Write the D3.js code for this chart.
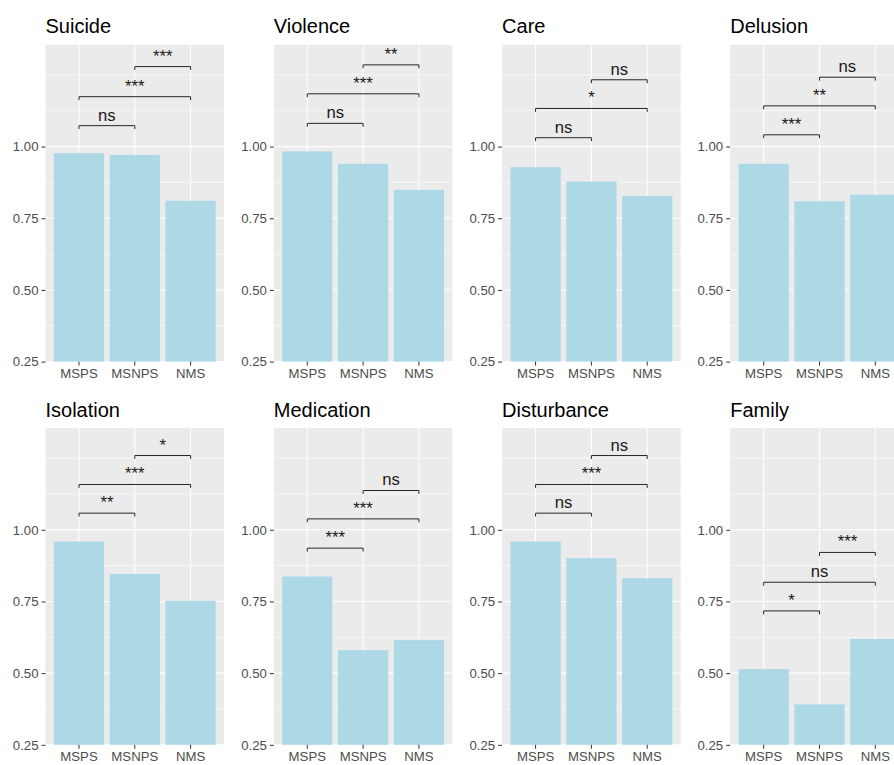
<!DOCTYPE html>
<html>
<head>
<meta charset="utf-8">
<script src="https://cdn.jsdelivr.net/npm/d3@7"></script>
<style>
  html, body { margin: 0; padding: 0; background: #fff; }
  svg { display: block; font-family: "Liberation Sans", Arial, sans-serif; }
</style>
</head>
<body>
<svg id="chart" width="894" height="765"></svg>
<script>
// Facet titles, in reading order (two rows of four)
const facets = ["Suicide", "Violence", "Care", "Delusion",
                "Isolation", "Medication", "Disturbance", "Family"];

// Groups on the x axis of every facet
const groups = ["MSPS", "MSNPS", "NMS"];

// Proportion per group (MSPS, MSNPS, NMS) for each facet
const suicide     = [0.977, 0.971, 0.811];
const violence    = [0.983, 0.940, 0.849];
const care        = [0.928, 0.878, 0.828];
const delusion    = [0.940, 0.809, 0.832];
const isolation   = [0.959, 0.846, 0.752];
const medication  = [0.837, 0.580, 0.615];
const disturbance = [0.959, 0.901, 0.831];
const family      = [0.514, 0.391, 0.619];
const values = [suicide, violence, care, delusion,
                isolation, medication, disturbance, family];

// Pairwise comparisons: MSPS–MSNPS, MSPS–NMS, MSNPS–NMS
const comparisons = [[0, 1], [0, 2], [1, 2]];

// Significance labels for each comparison, per facet
const signifLabels = [
  ["ns", "***", "***"],
  ["ns", "***", "**"],
  ["ns", "*", "ns"],
  ["***", "**", "ns"],
  ["**", "***", "*"],
  ["***", "***", "ns"],
  ["ns", "***", "ns"],
  ["*", "ns", "***"]
];

// Height of each comparison bracket, per facet
const bracketY = [
  [1.073, 1.174, 1.279],
  [1.081, 1.184, 1.285],
  [1.031, 1.133, 1.233],
  [1.041, 1.142, 1.242],
  [1.058, 1.158, 1.259],
  [0.936, 1.038, 1.137],
  [1.058, 1.158, 1.259],
  [0.717, 0.817, 0.921]
];

// Y axis
const yTicks = [0.25, 0.50, 0.75, 1.00];
const yMinor = [0.375, 0.625, 0.875, 1.125, 1.25];
const yDomain = [0.25, 1.355];

// Layout
const panelW = 178.6, panelH = 316.8;
const colLeft = [45.5, 273.8, 502.1, 730.2];
const rowTop = [44.8, 428.0];
const tipLength = 0.012;

const svg = d3.select("#chart");

facets.forEach((name, i) => {
  const col = i % 4, row = Math.floor(i / 4);
  const left = colLeft[col], top = rowTop[row];

  const x = d3.scaleBand()
    .domain(groups)
    .range([left, left + panelW])
    .paddingInner(0.1)
    .paddingOuter(0.15);
  const cx = g => x(g) + x.bandwidth() / 2;

  const y = d3.scaleLinear().domain(yDomain).range([top + panelH, top]);

  const g = svg.append("g");

  // Panel background
  g.append("rect")
    .attr("x", left).attr("y", top)
    .attr("width", panelW).attr("height", panelH)
    .attr("fill", "#EBEBEB");

  // Minor grid
  g.selectAll(".minor").data(yMinor).join("line")
    .attr("x1", left).attr("x2", left + panelW)
    .attr("y1", d => y(d)).attr("y2", d => y(d))
    .attr("stroke", "#fff").attr("stroke-width", 0.6);

  // Major grid
  g.selectAll(".major").data(yTicks).join("line")
    .attr("x1", left).attr("x2", left + panelW)
    .attr("y1", d => y(d)).attr("y2", d => y(d))
    .attr("stroke", "#fff").attr("stroke-width", 1.1);
  g.selectAll(".vmajor").data(groups).join("line")
    .attr("x1", d => cx(d)).attr("x2", d => cx(d))
    .attr("y1", top).attr("y2", top + panelH)
    .attr("stroke", "#fff").attr("stroke-width", 1.1);

  // Bars (base at the lower limit of the visible range)
  g.selectAll(".bar").data(values[i]).join("rect")
    .attr("x", (d, k) => x(groups[k]))
    .attr("width", x.bandwidth())
    .attr("y", d => y(d))
    .attr("height", d => y(yDomain[0]) - y(d))
    .attr("fill", "#ADD8E6");

  // Significance brackets
  comparisons.forEach((pair, k) => {
    const yv = bracketY[i][k];
    const x1 = cx(groups[pair[0]]), x2 = cx(groups[pair[1]]);
    const path = d3.path();
    path.moveTo(x1, y(yv - tipLength));
    path.lineTo(x1, y(yv));
    path.lineTo(x2, y(yv));
    path.lineTo(x2, y(yv - tipLength));
    g.append("path")
      .attr("d", path.toString())
      .attr("fill", "none")
      .attr("stroke", "#262626")
      .attr("stroke-width", 1);
    g.append("text")
      .attr("x", (x1 + x2) / 2)
      .attr("y", y(yv) - 5)
      .attr("text-anchor", "middle")
      .attr("font-size", 16.7)
      .attr("fill", "#1a1a1a")
      .text(signifLabels[i][k]);
  });

  // Axes
  const yAxis = g.append("g")
    .attr("transform", `translate(${left},0)`)
    .call(d3.axisLeft(y).tickValues(yTicks).tickFormat(d3.format(".2f"))
      .tickSize(4).tickPadding(3));
  const xAxis = g.append("g")
    .attr("transform", `translate(0,${top + panelH})`)
    .call(d3.axisBottom(x).tickSize(4).tickPadding(3));
  [yAxis, xAxis].forEach(a => {
    a.select(".domain").remove();
    a.selectAll(".tick line").attr("stroke", "#333").attr("stroke-width", 1);
    a.selectAll(".tick text")
      .attr("fill", "#4D4D4D")
      .attr("font-size", 13.2)
      .attr("font-family", "Liberation Sans, Arial, sans-serif");
  });

  // Facet title
  g.append("text")
    .attr("x", left)
    .attr("y", top - 11.5)
    .attr("font-size", 20)
    .attr("fill", "#000")
    .text(name);
});
</script>
</body>
</html>
